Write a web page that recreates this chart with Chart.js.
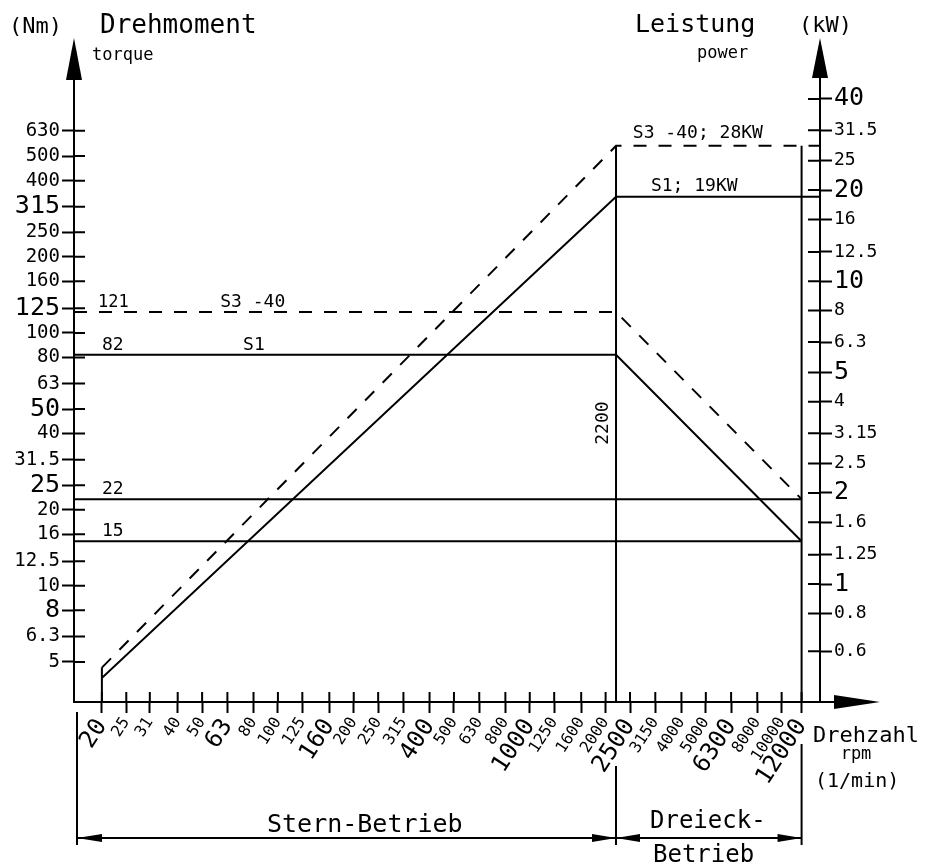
<!DOCTYPE html>
<html lang="de">
<head>
<meta charset="UTF-8" />
<title>Drehmoment / Leistung</title>
<script src="https://cdn.jsdelivr.net/npm/chart.js@4.4.1/dist/chart.umd.min.js"></script>
<style>
  html, body { margin: 0; padding: 0; background: #fff; }
  canvas { display: block; }
</style>
</head>
<body>
<canvas id="chart" width="933" height="866"></canvas>
<script>
// Achsenteilung (R10-Reihe)
const rpmTicks = [20, 25, 31, 40, 50, 63, 80, 100, 125, 160, 200, 250, 315, 400, 500, 630, 800, 1000, 1250, 1600, 2000, 2500, 3150, 4000, 5000, 6300, 8000, 10000, 12000];
const rpmBig = [20, 63, 160, 400, 1000, 2500, 6300, 12000];
const torqueTicks = [5, 6.3, 8, 10, 12.5, 16, 20, 25, 31.5, 40, 50, 63, 80, 100, 125, 160, 200, 250, 315, 400, 500, 630];
const torqueBig = [8, 25, 50, 125, 315];
const powerTicks = [0.6, 0.8, 1, 1.25, 1.6, 2, 2.5, 3.15, 4, 5, 6.3, 8, 10, 12.5, 16, 20, 25, 31.5, 40];
const powerBig = [1, 2, 5, 10, 20, 40];

const rpmMin = 15.5, rpmMax = 14200;
const torqueMin = 3.47, torqueMax = 1000;
const powerMin = 0.408, powerMax = 46.2;

// Drehmoment (Nm)
const s1TorqueRpm = [rpmMin, 2200, 12000];
const s1Torque = [82, 82, 15];
const s3TorqueRpm = [rpmMin, 2200, 12000];
const s3Torque = [121, 121, 22];
const t22Rpm = [rpmMin, 12000];
const t22 = [22, 22];
const t15Rpm = [rpmMin, 12000];
const t15 = [15, 15];

// Leistung (kW)
const s1PowerRpm = [20, 20, 20, 2200, rpmMax];
const s1Power = [powerMin, 0.53, 0.49, 19, 19];
const s3PowerRpm = [20, 2200, rpmMax];
const s3Power = [0.53, 28, 28];
const limitRpm = [2200, 12000];
const limitPower = [28, powerMin];

const FONT = "'DejaVu Sans Mono', 'Liberation Mono', monospace";

const pts = (xs, ys) => xs.map((v, i) => ({ x: v, y: ys[i] }));
const line = (xs, ys, axis, dashed) => ({
    data: pts(xs, ys),
    yAxisID: axis,
    borderColor: '#000',
    borderWidth: 2,
    borderDash: dashed ? [13, 12] : [],
    pointRadius: 0,
    fill: false,
    tension: 0
});

const tickFont = (big, small, large) => ctx => ({
    family: FONT,
    size: ctx.tick && big.includes(ctx.tick.value) ? large : small
});

function axisOpts(ticks, big, min, max, pos, tl, pad, small, large) {
    return {
        type: 'logarithmic',
        position: pos,
        min: min,
        max: max,
        afterBuildTicks: s => { s.ticks = ticks.map(v => ({ value: v })); },
        border: { display: true, color: '#000', width: 2 },
        grid: { display: true, drawOnChartArea: false, drawTicks: true, tickLength: tl, tickWidth: 2, tickColor: '#000' },
        ticks: { autoSkip: false, padding: pad, color: '#000', font: tickFont(big, small, large), callback: v => String(v) }
    };
}

const xAxis = axisOpts(rpmTicks, rpmBig, rpmMin, rpmMax, 'bottom', 11, 1, 16, 24);
xAxis.ticks.minRotation = 57;
xAxis.ticks.maxRotation = 57;
xAxis.afterFit = s => { s.height = 164; };

const yAxis = axisOpts(torqueTicks, torqueBig, torqueMin, torqueMax, 'left', 12, 2, 19, 25);
yAxis.afterFit = s => { s.width = 74; };

const y2Axis = axisOpts(powerTicks, powerBig, powerMin, powerMax, 'right', 12, 2, 18, 25);
y2Axis.afterFit = s => { s.width = 113; };

// Beschriftungen an den Kurven
const notes = [
    { text: '121', rpm: 19.3, v: 121, axis: 'y', dy: -5, size: 17 },
    { text: 'S3 -40', rpm: 59, v: 121, axis: 'y', dy: -5, size: 18 },
    { text: '82', rpm: 20, v: 82, axis: 'y', dy: -5, size: 18 },
    { text: 'S1', rpm: 72.7, v: 82, axis: 'y', dy: -5, size: 18 },
    { text: '22', rpm: 20, v: 22, axis: 'y', dy: -5, size: 18 },
    { text: '15', rpm: 20, v: 15, axis: 'y', dy: -5, size: 18 },
    { text: 'S3 -40; 28KW', rpm: 2566, v: 28, axis: 'y2', dy: -8, size: 18 },
    { text: 'S1; 19KW', rpm: 3026, v: 19, axis: 'y2', dy: -6, size: 18 }
];

function arrowH(ctx, tipX, tipY, dir, len, half) {
    ctx.beginPath();
    ctx.moveTo(tipX, tipY);
    ctx.lineTo(tipX - dir * len, tipY - half);
    ctx.lineTo(tipX - dir * len, tipY + half);
    ctx.closePath();
    ctx.fill();
}

function arrowUp(ctx, tipX, tipY, baseY, half) {
    ctx.beginPath();
    ctx.moveTo(tipX, tipY);
    ctx.lineTo(tipX - half, baseY);
    ctx.lineTo(tipX + half, baseY);
    ctx.closePath();
    ctx.fill();
}

function seg(ctx, x1, y1, x2, y2) {
    ctx.beginPath();
    ctx.moveTo(x1, y1);
    ctx.lineTo(x2, y2);
    ctx.stroke();
}

function text(ctx, s, x, y, size, align) {
    ctx.font = size + 'px ' + FONT;
    ctx.textAlign = align || 'left';
    ctx.fillText(s, x, y);
}

const drawing = {
    id: 'drawing',
    afterDraw(chart) {
        const { ctx, chartArea: a, scales } = chart;
        const { x, y, y2 } = scales;
        ctx.save();
        ctx.strokeStyle = '#000';
        ctx.fillStyle = '#000';
        ctx.lineWidth = 2;
        ctx.textBaseline = 'alphabetic';

        // Teilstriche nach innen
        ctx.beginPath();
        y.ticks.forEach(t => { const p = y.getPixelForValue(t.value); ctx.moveTo(a.left, p); ctx.lineTo(a.left + 11, p); });
        y2.ticks.forEach(t => { const p = y2.getPixelForValue(t.value); ctx.moveTo(a.right - 12, p); ctx.lineTo(a.right, p); });
        x.ticks.forEach(t => { const p = x.getPixelForValue(t.value); ctx.moveTo(p, a.bottom); ctx.lineTo(p, a.bottom - 10); });
        ctx.stroke();

        // Achsenpfeile
        seg(ctx, a.left, a.top, a.left, 70);
        arrowUp(ctx, a.left, 38, 80, 8);
        seg(ctx, a.right, a.top, a.right, 70);
        arrowUp(ctx, a.right, 38, 78, 8);
        seg(ctx, a.right, a.bottom, 840, a.bottom);
        arrowH(ctx, 880, a.bottom, 1, 46, 7);

        // Masslinien unten
        const x2200 = x.getPixelForValue(2200);
        const x12000 = x.getPixelForValue(12000);
        const dimY = 838;
        seg(ctx, a.left + 3, 712, a.left + 3, 845);
        seg(ctx, x2200, 766, x2200, 845);
        seg(ctx, x12000, 744, x12000, 845);
        seg(ctx, a.left + 3, dimY, x12000, dimY);
        arrowH(ctx, a.left + 3, dimY, -1, 25, 4);
        arrowH(ctx, x2200, dimY, 1, 24, 4);
        arrowH(ctx, x2200, dimY, -1, 24, 4);
        arrowH(ctx, x12000, dimY, 1, 24, 4);

        // Titel
        text(ctx, '(Nm)', 9, 33, 22);
        text(ctx, 'Drehmoment', 100, 33, 26);
        text(ctx, 'torque', 92, 60, 17);
        text(ctx, 'Leistung', 635, 32, 25);
        text(ctx, '(kW)', 799, 32, 22);
        text(ctx, 'power', 697, 58, 17);

        text(ctx, 'Stern-Betrieb', 267, 832, 25);
        text(ctx, 'Dreieck-', 650, 828, 24);
        text(ctx, 'Betrieb', 653, 862, 24);
        text(ctx, 'Drehzahl', 813, 742, 22);
        text(ctx, 'rpm', 856, 759, 17, 'center');
        text(ctx, '(1/min)', 815, 787, 20);

        // Kurvenbeschriftung
        notes.forEach(n => {
            const sc = scales[n.axis];
            text(ctx, n.text, x.getPixelForValue(n.rpm), sc.getPixelForValue(n.v) + n.dy, n.size);
        });

        ctx.save();
        ctx.translate(x2200 - 8, y.getPixelForValue(44));
        ctx.rotate(-Math.PI / 2);
        text(ctx, '2200', 0, 0, 18, 'center');
        ctx.restore();

        ctx.restore();
    }
};

new Chart(document.getElementById('chart').getContext('2d'), {
    type: 'line',
    data: {
        datasets: [
            line(s1TorqueRpm, s1Torque, 'y', false),
            line(s3TorqueRpm, s3Torque, 'y', true),
            line(t22Rpm, t22, 'y', false),
            line(t15Rpm, t15, 'y', false),
            line(s1PowerRpm, s1Power, 'y2', false),
            line(s3PowerRpm, s3Power, 'y2', true),
            line([limitRpm[0], limitRpm[0]], limitPower, 'y2', false),
            line([limitRpm[1], limitRpm[1]], limitPower, 'y2', false)
        ]
    },
    options: {
        responsive: false,
        animation: false,
        layout: { padding: { top: 80, left: 0, right: 0, bottom: 0 } },
        plugins: { legend: { display: false }, tooltip: { enabled: false } },
        scales: { x: xAxis, y: yAxis, y2: y2Axis }
    },
    plugins: [drawing]
});
</script>
</body>
</html>
